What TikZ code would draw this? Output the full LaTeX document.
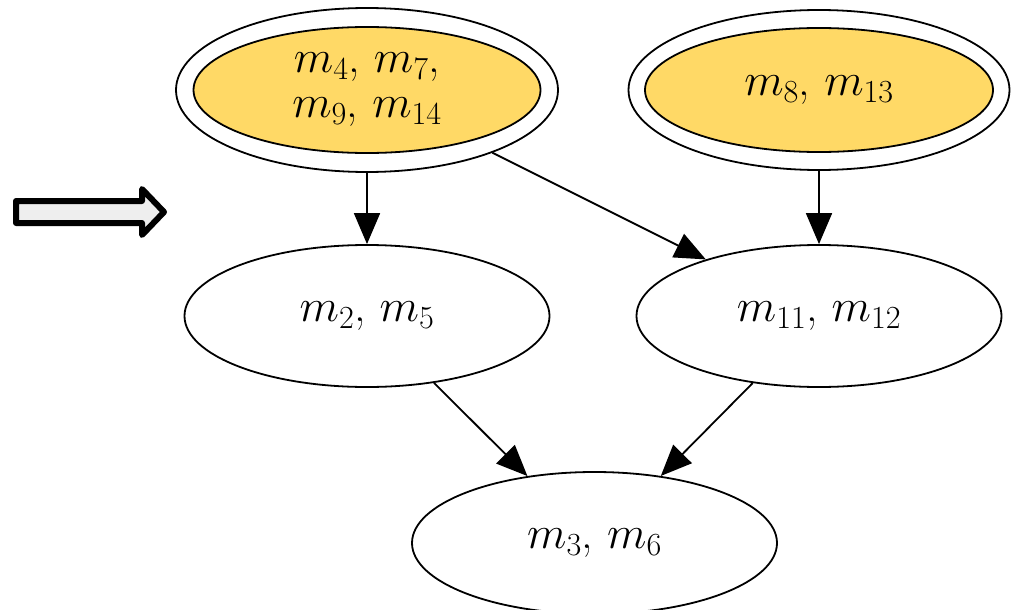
\RequirePackage{fix-cm}
\documentclass[tikz,border=0pt]{standalone}
\usetikzlibrary{shapes.geometric,arrows.meta}
\definecolor{hlfill}{RGB}{255,217,102}
\definecolor{arrowfill}{RGB}{238,238,238}
\begin{document}
\begin{tikzpicture}[x=1pt,y=-1pt,
  state/.style={ellipse,draw=black,line width=1.8pt,inner sep=0pt,
    font=\fontsize{46}{45}\selectfont,align=center},
  plainstate/.style={state,minimum width=365pt,minimum height=142pt},
  edge/.style={line width=1.8pt,-{Triangle[length=31pt,width=26pt]}},
  hint/.style={line width=6pt,line join=round,draw=black,fill=arrowfill},
]
\useasboundingbox (0,0) rectangle (1017,610);

% source states: double ellipses with a filled inner ring
\node[state,minimum width=382pt,minimum height=164pt] (A) at (367,90) {};
\node[state,fill=hlfill,minimum width=347pt,minimum height=126pt] (Ain) at (367,90)
  {$m_4$, $m_7$,\\$m_9$, $m_{14}$};
\node[state,minimum width=381pt,minimum height=160pt] (B) at (819,90) {};
\node[state,fill=hlfill,minimum width=348pt,minimum height=124pt] (Bin) at (819,90)
  {$m_8$, $m_{13}$};

% remaining states
\node[plainstate] (C) at (367,316) {$m_2$, $m_5$};
\node[plainstate] (D) at (819,316) {$m_{11}$, $m_{12}$};
\node[plainstate] (E) at (594.5,543) {$m_3$, $m_6$};

% dependencies
\draw[edge] (A) -- (C);
\draw[edge] (A) -- (D);
\draw[edge] (B) -- (D);
\draw[edge] (C) -- (E);
\draw[edge] (D) -- (E);

% block arrow pointing at the middle row
\draw[hint] (16,201) -- (142,201) -- (142,189) -- (164,212) -- (142,235)
  -- (142,223) -- (16,223) -- cycle;
\end{tikzpicture}
\end{document}
